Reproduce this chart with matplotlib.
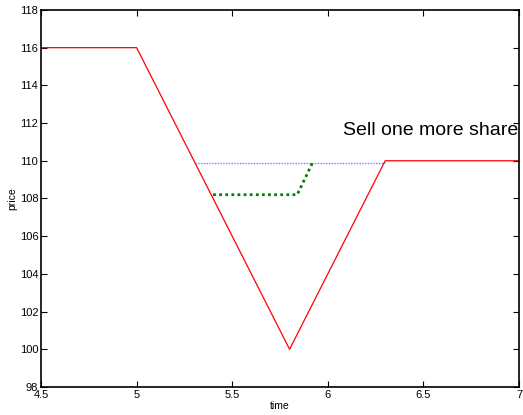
import matplotlib
matplotlib.use("Agg")
import matplotlib.pyplot as plt

plt.rcParams["font.family"] = ["Liberation Sans", "DejaVu Sans"]

# price path (red)
price_t = [4.5, 5.0, 5.8, 6.3, 7.0]
price_p = [116, 116, 100, 110, 110]

# sell level (blue dotted)
sell_t = [5.305, 6.3]
sell_p = [109.9, 109.9]

# one more share (green dotted)
more_t = [5.4, 5.84, 5.92]
more_p = [108.2, 108.2, 109.9]

fig = plt.figure(figsize=(5.23, 4.15), dpi=100)
ax = fig.add_axes([0.0784, 0.0675, 0.9140, 0.9085])

ax.plot(price_t, price_p, color="red", lw=0.9)
ax.plot(sell_t, sell_p, color="#5a5aff", lw=1.0, ls=(0, (1, 1)), alpha=0.8)
ax.plot(more_t, more_p, color="green", lw=2.0, ls=(0, (1, 1.2)))

ax.text(6.08, 111.6, "Sell one more share", fontsize=14, va="center", ha="left")

ax.set_xlim(4.5, 7)
ax.set_ylim(98, 118)
ax.set_xticks([4.5, 5, 5.5, 6, 6.5, 7])
ax.set_xticklabels(["4.5", "5", "5.5", "6", "6.5", "7"])
ax.set_yticks(range(98, 119, 2))
ax.tick_params(direction="in", top=True, right=True, labelsize=8, length=4, width=0.8, pad=2)
for sp in ax.spines.values():
    sp.set_linewidth(1.2)
ax.set_xlabel("time", fontsize=7.5, labelpad=1)
ax.set_ylabel("price", fontsize=7.5, labelpad=2)

fig.savefig("out.png", dpi=100)
